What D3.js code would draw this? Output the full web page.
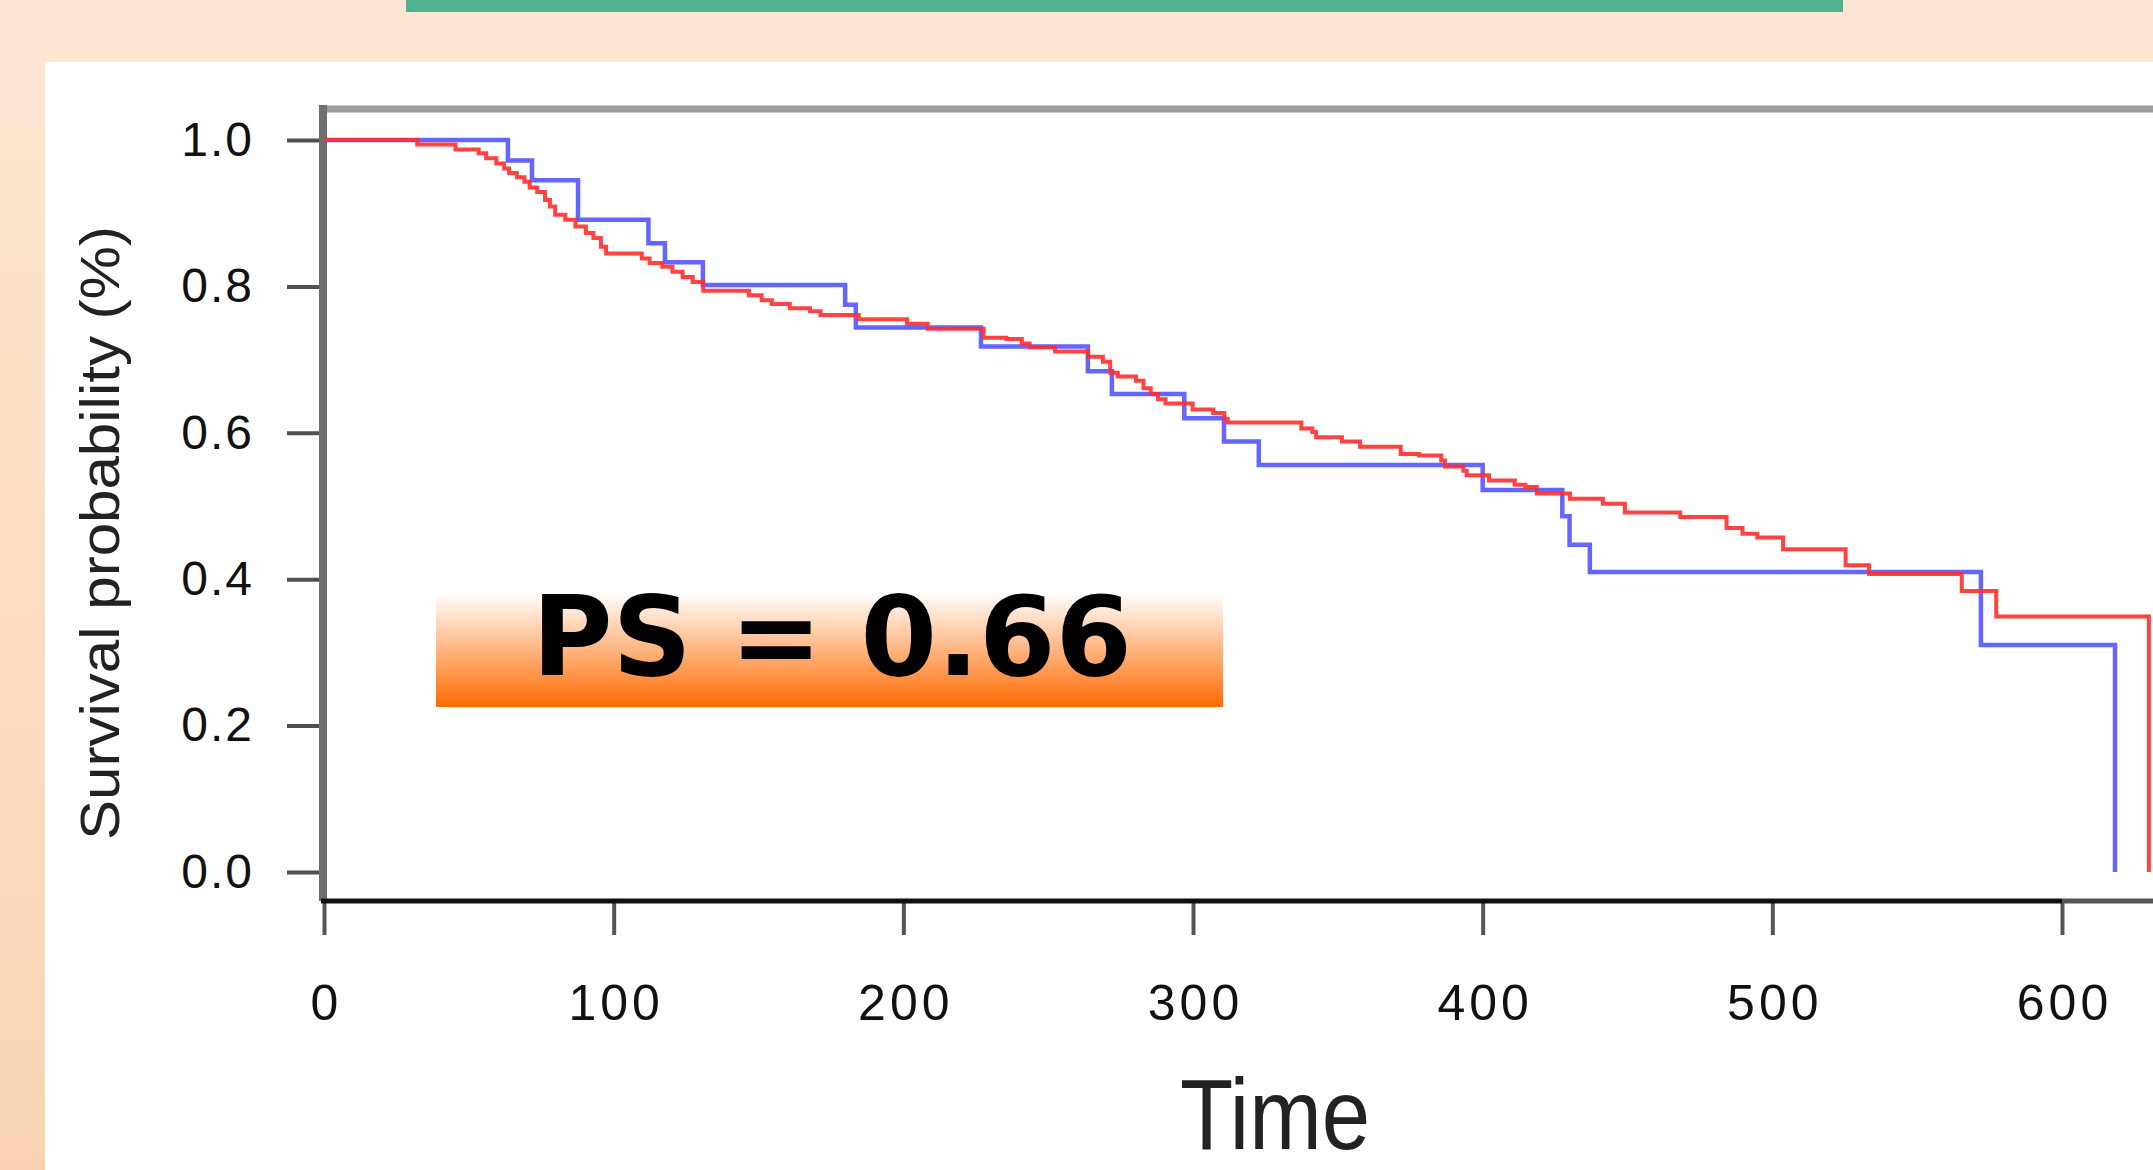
<!DOCTYPE html>
<html>
<head>
<meta charset="utf-8">
<script src="https://cdn.jsdelivr.net/npm/d3@7"></script>
<style>
body{margin:0;background:#fde6d2;overflow:hidden}
text{font-family:"Liberation Sans",Arial,sans-serif}
</style>
</head>
<body>
<div id="chart"></div>
<script>
var width = 2153
var height = 1170

var xTicks = [0,100,200,300,400,500,600]
var yTicks = [0,0.2,0.4,0.6,0.8,1.0]

var blueTime = [63.5,71.8,87.7,112,117.7,130.8,179.9,183.6,226.8,263.7,272,297,310.7,322.7,400,427.5,430,437,572,618.3]
var blueSurv = [0.972,0.945,0.891,0.859,0.833,0.802,0.775,0.744,0.718,0.684,0.653,0.620,0.588,0.556,0.522,0.486,0.447,0.410,0.310,0.0]

var redTime = [32.2,45.4,53.4,56.0,59.5,62.2,63.9,66.6,69.2,71.0,73.6,76.3,78.0,79.8,83.3,86.8,90.4,93.0,95.6,97.4,
	109.7,112.4,116.8,120.3,123.8,127.3,130.9,146.7,151.1,154.6,160.8,167.8,171.4,184.6,201.3,208.4,227.7,235.6,240.9,243.6,
	252.4,263.8,268.9,271.4,274.0,280.3,282.9,285.4,287.9,290.5,299.9,307.0,310.8,312.0,337.4,341.2,342.5,351.4,357.7,371.7,
	378.1,385.7,387.0,393.3,394.5,402.2,411.1,414.8,418.7,430.1,441.5,449.1,468.2,484.2,489.7,494.8,503.7,525.3,533.4,565.4,
	577.3,630]
var redSurv = [0.994,0.987,0.982,0.975,0.968,0.961,0.955,0.949,0.943,0.935,0.929,0.918,0.909,0.898,0.891,0.882,0.873,0.866,0.854,0.845,
	0.838,0.832,0.827,0.820,0.813,0.806,0.794,0.788,0.781,0.776,0.770,0.766,0.761,0.755,0.749,0.742,0.730,0.728,0.722,0.717,
	0.711,0.704,0.697,0.682,0.677,0.671,0.661,0.653,0.646,0.640,0.632,0.627,0.619,0.614,0.606,0.601,0.594,0.588,0.581,0.571,
	0.569,0.562,0.554,0.548,0.542,0.535,0.529,0.526,0.517,0.510,0.503,0.491,0.485,0.470,0.462,0.457,0.441,0.419,0.407,0.384,
	0.349,0.0]

var psLabel = 'PS = 0.66'

var svg = d3.select('#chart')
			.append('svg')
			.attr('width',width)
			.attr('height',height)

var defs = svg.append('defs')
var lg = defs.append('linearGradient').attr('id','side').attr('x1',0).attr('y1',0).attr('x2',0).attr('y2',1)
lg.append('stop').attr('offset','0%').attr('stop-color','#fde6d2')
lg.append('stop').attr('offset','100%').attr('stop-color','#f9d3b1')
var pg = defs.append('linearGradient').attr('id','psbox').attr('x1',0).attr('y1',0).attr('x2',0).attr('y2',1)
pg.append('stop').attr('offset','0%').attr('stop-color','#ffffff')
pg.append('stop').attr('offset','100%').attr('stop-color','#ff6a00')

// page background
svg.append('rect').attr('x',0).attr('y',0).attr('width',width).attr('height',height).attr('fill','#fde6d2')
svg.append('rect').attr('x',0).attr('y',62).attr('width',45).attr('height',height-62).attr('fill','url(#side)')
svg.append('rect').attr('x',45).attr('y',62).attr('width',width-45).attr('height',height-62).attr('fill','#ffffff')
svg.append('rect').attr('x',406).attr('y',0).attr('width',1437).attr('height',12).attr('fill','#52b18f')

var x = d3.scaleLinear().domain([0,600]).range([324,2062])
var y = d3.scaleLinear().domain([0,1]).range([872,140])

var plotTop = 109
var plotBottom = 901

// frame
svg.append('line').attr('x1',320).attr('x2',width).attr('y1',plotTop).attr('y2',plotTop)
	.attr('stroke','#9c9c9c').attr('stroke-width',7)

var yAxis = svg.append('g')
			.attr('transform','translate(323,0)')
			.call(d3.axisLeft(y).tickValues(yTicks).tickSize(36).tickPadding(33).tickFormat(d3.format('.1f')))
yAxis.select('.domain').remove()
yAxis.selectAll('line').attr('stroke','#505050').attr('stroke-width',4)
yAxis.selectAll('text').attr('font-size',48).attr('fill','#111').attr('letter-spacing',2)

var xAxis = svg.append('g')
			.attr('transform','translate(0,'+plotBottom+')')
			.call(d3.axisBottom(x).tickValues(xTicks).tickSize(34).tickFormat(d3.format('d')))
xAxis.select('.domain').remove()
xAxis.selectAll('line').attr('stroke','#555').attr('stroke-width',4)
xAxis.selectAll('text').attr('font-size',50).attr('fill','#111').attr('letter-spacing',4)
	.attr('y',101).attr('dy','0.35em').attr('dx',2)

svg.append('line').attr('x1',323).attr('x2',323).attr('y1',plotTop-4).attr('y2',plotBottom)
	.attr('stroke','#6e6e6e').attr('stroke-width',8)
svg.append('line').attr('x1',321).attr('x2',x(600)).attr('y1',plotBottom).attr('y2',plotBottom)
	.attr('stroke','#111').attr('stroke-width',5)
svg.append('line').attr('x1',x(600)).attr('x2',width).attr('y1',plotBottom).attr('y2',plotBottom)
	.attr('stroke','#555').attr('stroke-width',5)

// curves
var line = d3.line()
			.x(function(d){return x(d[0])})
			.y(function(d){return y(d[1])})
			.curve(d3.curveStepAfter)

var bluePts = [[0,1]].concat(blueTime.map(function(t,i){return [t,blueSurv[i]]}))
var redPts = [[0,1]].concat(redTime.map(function(t,i){return [t,redSurv[i]]}))

svg.append('path').datum(bluePts)
	.attr('d',line).attr('fill','none').attr('stroke','#4a4aff').attr('stroke-width',4.5).attr('opacity',0.85)
svg.append('path').datum(redPts)
	.attr('d',line).attr('fill','none').attr('stroke','#ff2e2e').attr('stroke-width',4).attr('opacity',0.9)

// axis titles
svg.append('text')
	.attr('x',1275).attr('y',1149)
	.attr('transform','translate(1275,0) scale(0.87,1) translate(-1275,0)')
	.attr('text-anchor','middle').attr('font-size',100).attr('fill','#222')
	.text('Time')

svg.append('text')
	.attr('transform','translate(104,533) rotate(-90)')
	.attr('text-anchor','middle').attr('dy','0.26em')
	.attr('font-size',56).attr('fill','#222')
	.attr('textLength',614).attr('lengthAdjust','spacingAndGlyphs')
	.text('Survival probability (%)')

// PS box
svg.append('rect').attr('x',436).attr('y',593).attr('width',787).attr('height',114).attr('fill','url(#psbox)')
svg.append('text')
	.attr('x',832).attr('y',675)
	.attr('text-anchor','middle')
	.style('font-family','"DejaVu Sans",sans-serif').style('font-weight','bold')
	.attr('font-size',110).attr('fill','#000')
	.text(psLabel)
</script>
</body>
</html>
